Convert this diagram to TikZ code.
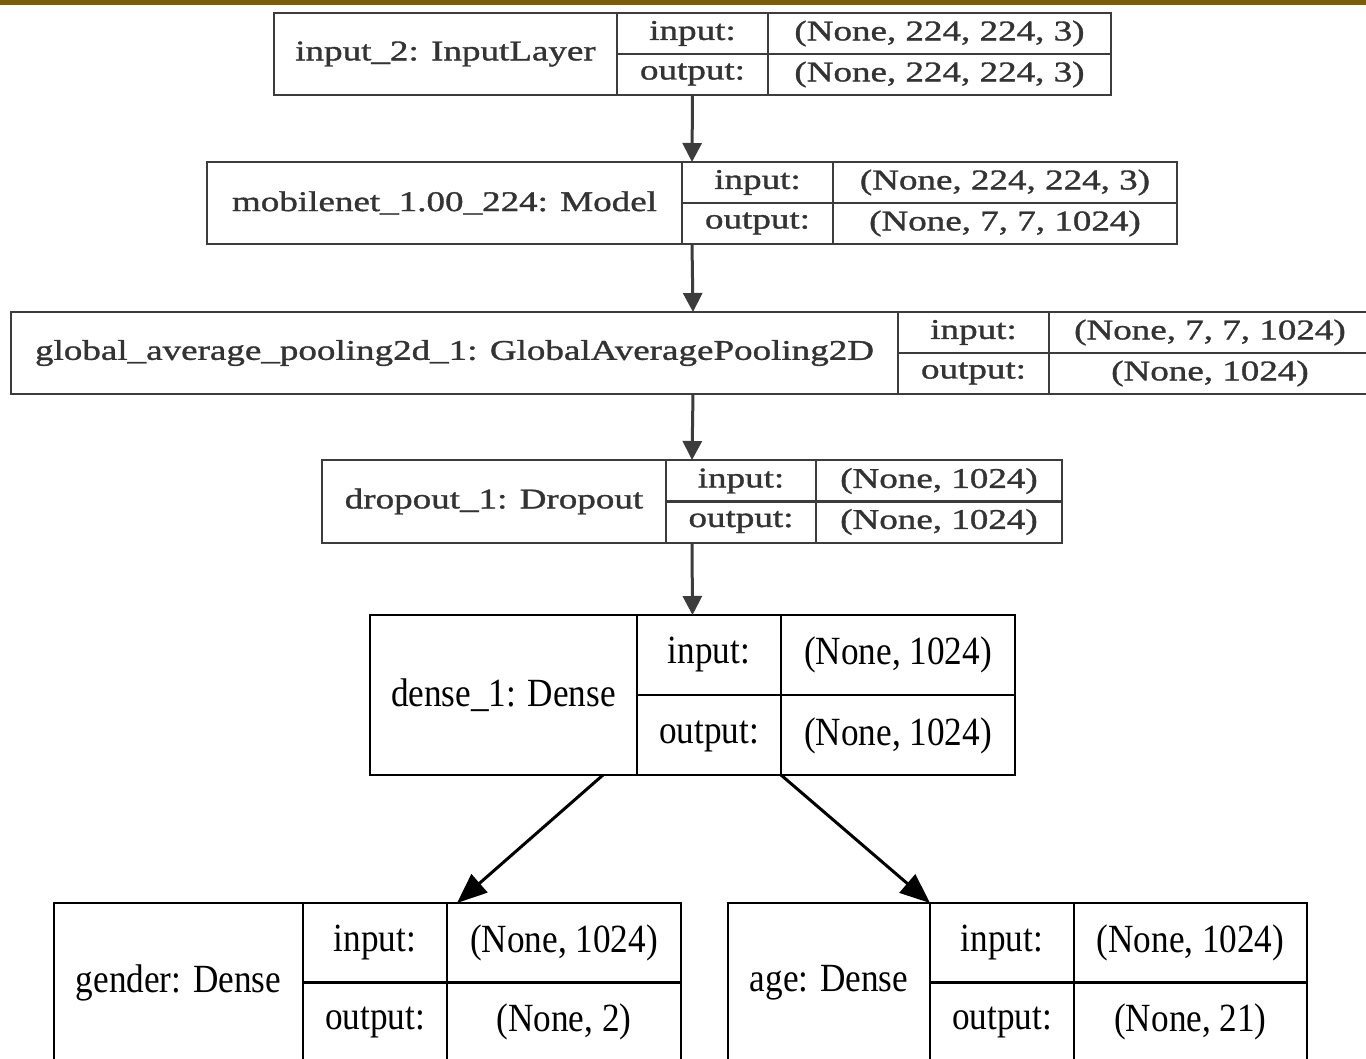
\documentclass[tikz,border=0pt]{standalone}
\usepackage{fontspec}
\setmainfont{Liberation Serif}
\newfontfamily\topfont[FakeStretch=1.3,FakeBold=1.2]{Liberation Serif}
\newfontfamily\botfont[FakeStretch=0.88]{Liberation Serif}
\usetikzlibrary{arrows.meta}
\definecolor{barcol}{RGB}{123,94,12}
\definecolor{edgecol}{RGB}{60,60,60}
\begin{document}
\begin{tikzpicture}[x=1pt,y=-1pt,
  box/.style={draw=edgecol, line width=2.8pt, fill=white, inner sep=0pt, outer sep=0pt},
  sep/.style={draw=edgecol, line width=2.8pt},
  ttxt/.style={font=\topfont\fontsize{28.5}{30}\selectfont, inner sep=0pt, text=black!80},
  btxt/.style={font=\botfont\fontsize{40}{42}\selectfont, inner sep=0pt},
  arr/.style={draw=edgecol, line width=3pt, -{Triangle[length=19pt,width=19pt]}},
  darr/.style={draw=black, line width=3pt, -{Triangle[length=30pt,width=24pt]}}]
\useasboundingbox (0,0) rectangle (1366,1059);
\clip (0,0) rectangle (1366,1059);
\fill[white] (0,0) rectangle (1366,1059);
\fill[barcol] (0,0) rectangle (1366,5);

% layer 1
\node[box, minimum width=837pt, minimum height=82pt] (L1) at (692.5,54) {};
\draw[sep] (617,13) -- (617,95) (768,13) -- (768,95) (617,54) -- (1111,54);
\node[ttxt] (L1n) at (445.5,54) {input\_2: InputLayer};
\node[ttxt] (L1a) at (692.5,33.5) {input:};
\node[ttxt] (L1b) at (692.5,74.5) {output:};
\node[ttxt] (L1c) at (939.5,33.5) {(None, 224, 224, 3)};
\node[ttxt] (L1d) at (939.5,74.5) {(None, 224, 224, 3)};

% layer 2
\node[box, minimum width=970pt, minimum height=82pt] (L2) at (692,203) {};
\draw[sep] (682,162) -- (682,244) (833,162) -- (833,244) (682,203) -- (1177,203);
\node[ttxt] (L2n) at (444.5,203) {mobilenet\_1.00\_224: Model};
\node[ttxt] (L2a) at (757.5,182.5) {input:};
\node[ttxt] (L2b) at (757.5,223.5) {output:};
\node[ttxt] (L2c) at (1005,182.5) {(None, 224, 224, 3)};
\node[ttxt] (L2d) at (1005,223.5) {(None, 7, 7, 1024)};

% layer 3
\node[box, minimum width=1364pt, minimum height=82pt] (L3) at (693,353) {};
\draw[sep] (898,312) -- (898,394) (1049,312) -- (1049,394) (898,353) -- (1375,353);
\node[ttxt] (L3n) at (454.5,353) {global\_average\_pooling2d\_1: GlobalAveragePooling2D};
\node[ttxt] (L3a) at (973.5,332.5) {input:};
\node[ttxt] (L3b) at (973.5,373.5) {output:};
\node[ttxt] (L3c) at (1210,332.5) {(None, 7, 7, 1024)};
\node[ttxt] (L3d) at (1210,373.5) {(None, 1024)};

% layer 4
\node[box, minimum width=740pt, minimum height=83pt] (L4) at (692,501.5) {};
\draw[sep] (666,460) -- (666,543) (816,460) -- (816,543) (666,501.5) -- (1062,501.5);
\node[ttxt] (L4n) at (494,501.5) {dropout\_1: Dropout};
\node[ttxt] (L4a) at (741,481) {input:};
\node[ttxt] (L4b) at (741,522) {output:};
\node[ttxt] (L4c) at (939,481) {(None, 1024)};
\node[ttxt] (L4d) at (939,522) {(None, 1024)};

% layer 5
\node[box, draw=black, minimum width=645pt, minimum height=160pt] (L5) at (692.5,695) {};
\draw[sep, draw=black] (637,615) -- (637,775) (781,615) -- (781,775) (637,695) -- (1015,695);
\node[btxt] (L5n) at (503.5,695) {dense\_1: Dense};
\node[btxt] (L5a) at (709,655) {input:};
\node[btxt] (L5b) at (709,736) {output:};
\node[btxt] (L5c) at (898,655) {(None, 1024)};
\node[btxt] (L5d) at (898,736) {(None, 1024)};

% layer 6
\node[box, draw=black, minimum width=627pt, minimum height=159pt] (L6) at (367.5,982.5) {};
\draw[sep, draw=black] (303,903) -- (303,1062) (447,903) -- (447,1062) (303,982.5) -- (681,982.5);
\node[btxt] (L6n) at (178.5,982.5) {gender: Dense};
\node[btxt] (L6a) at (375,943) {input:};
\node[btxt] (L6b) at (375,1022) {output:};
\node[btxt] (L6c) at (564,943) {(None, 1024)};
\node[btxt] (L6d) at (564,1022) {(None, 2)};

% layer 7
\node[box, draw=black, minimum width=579pt, minimum height=159pt] (L7) at (1017.5,982.5) {};
\draw[sep, draw=black] (930,903) -- (930,1062) (1074,903) -- (1074,1062) (930,982.5) -- (1307,982.5);
\node[btxt] (L7n) at (829,982.5) {age: Dense};
\node[btxt] (L7a) at (1002,943) {input:};
\node[btxt] (L7b) at (1002,1022) {output:};
\node[btxt] (L7c) at (1190.5,943) {(None, 1024)};
\node[btxt] (L7d) at (1190.5,1022) {(None, 21)};

% connectors
\draw[arr] (L1.south) -- (L2.north);
\draw[arr] (L2.south) -- (L3.north);
\draw[arr] (L3.south) -- (L4.north);
\draw[arr] (L4.south) -- (L5.north);
\draw[darr] ([xshift=-89.5pt]L5.south) -- ([xshift=89.5pt]L6.north);
\draw[darr] ([xshift=88.5pt]L5.south) -- ([xshift=-87.5pt]L7.north);
\end{tikzpicture}
\end{document}
